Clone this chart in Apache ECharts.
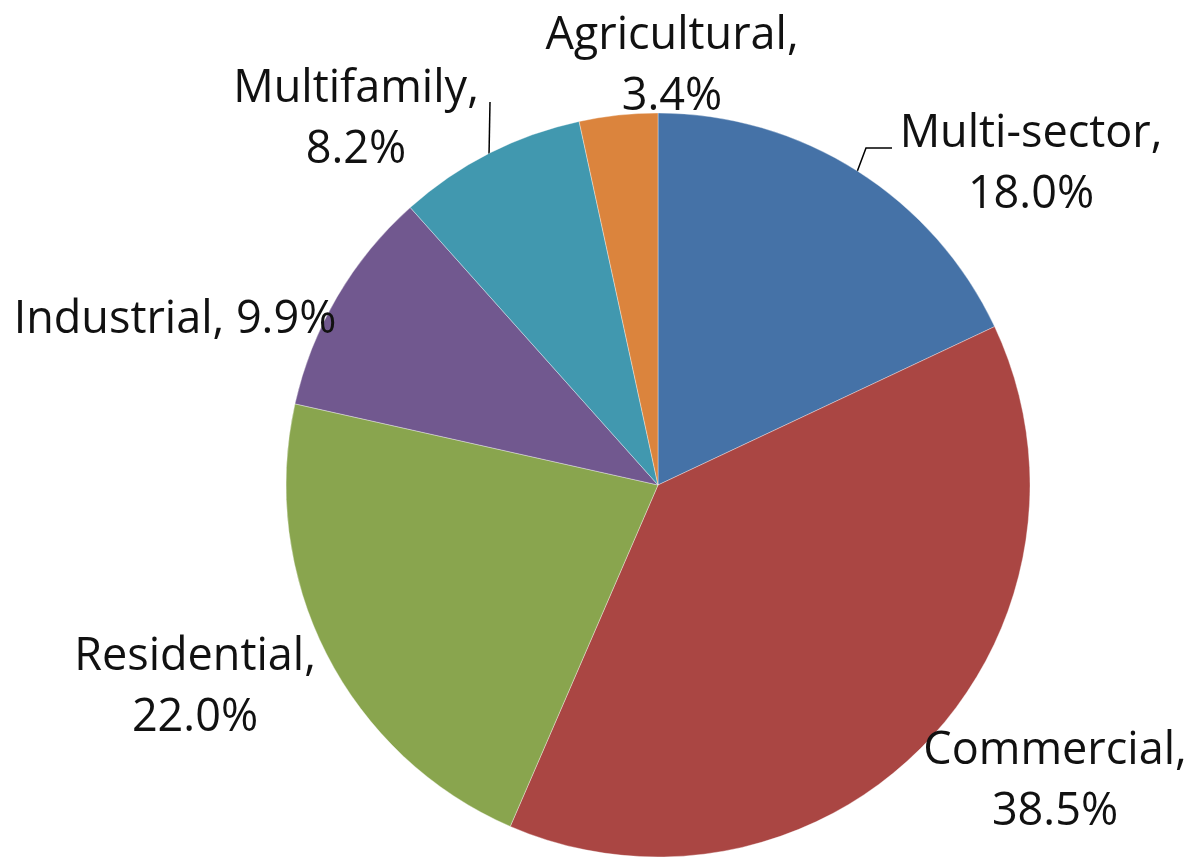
<!DOCTYPE html>
<html>
<head>
<meta charset="utf-8">
<script src="https://cdn.jsdelivr.net/npm/echarts@6/dist/echarts.min.js"></script>
<style>
  html, body { margin: 0; padding: 0; background: #fff; }
  #chart { width: 1192px; height: 858px; }
</style>
</head>
<body>
<div id="chart"></div>
<script>
// slices, clockwise from 12 o'clock
const categories = ["Multi-sector", "Commercial", "Residential", "Industrial", "Multifamily", "Agricultural"];
const shares = [18.0, 38.5, 22.0, 9.9, 8.2, 3.4];
const colors = ["#4572A7", "#AA4643", "#89A54E", "#71588F", "#4198AF", "#DB843D"];
// labels that stay on one line
const oneLine = ["Industrial"];

// where the label blocks sit (centre of text block)
const labelPos = [
  [1031, 165],
  [1055, 782],
  [195, 688],
  [175, 320],
  [356, 120],
  [672, 67]
];
// leader lines, only two slices have them
const leaderLines = {
  "Multi-sector": [[857, 172], [866, 148], [892, 148]],
  "Multifamily": [[489, 156], [490, 102]]
};

const myChart = echarts.init(document.getElementById("chart"), null, { renderer: "canvas" });

const option = {
  animation: false,
  backgroundColor: "#fff",
  series: [
    {
      type: "pie",
      center: [658, 485],
      radius: 372,
      startAngle: 90,
      clockwise: true,
      avoidLabelOverlap: false,
      itemStyle: {
        borderColor: "rgba(255,255,255,0.35)",
        borderWidth: 1
      },
      label: {
        show: true,
        position: "outside",
        fontFamily: "Open Sans",
        fontSize: 45,
        lineHeight: 61,
        color: "#111",
        align: "center",
        formatter: p => {
          const sep = oneLine.includes(p.name) ? " " : "\n";
          return p.name + "," + sep + p.value.toFixed(1) + "%";
        }
      },
      labelLine: {
        show: false,
        lineStyle: { color: "#000", width: 1.5 }
      },
      labelLayout: params => {
        const pos = labelPos[params.dataIndex];
        const pts = leaderLines[categories[params.dataIndex]];
        const out = {
          x: pos[0],
          y: pos[1],
          align: "center",
          verticalAlign: "middle",
          hideOverlap: false
        };
        if (pts) out.labelLinePoints = pts;
        return out;
      },
      data: categories.map((name, i) => ({
        name,
        value: shares[i],
        itemStyle: { color: colors[i] },
        labelLine: { show: !!leaderLines[name] }
      }))
    }
  ]
};

myChart.setOption(option);
</script>
</body>
</html>
